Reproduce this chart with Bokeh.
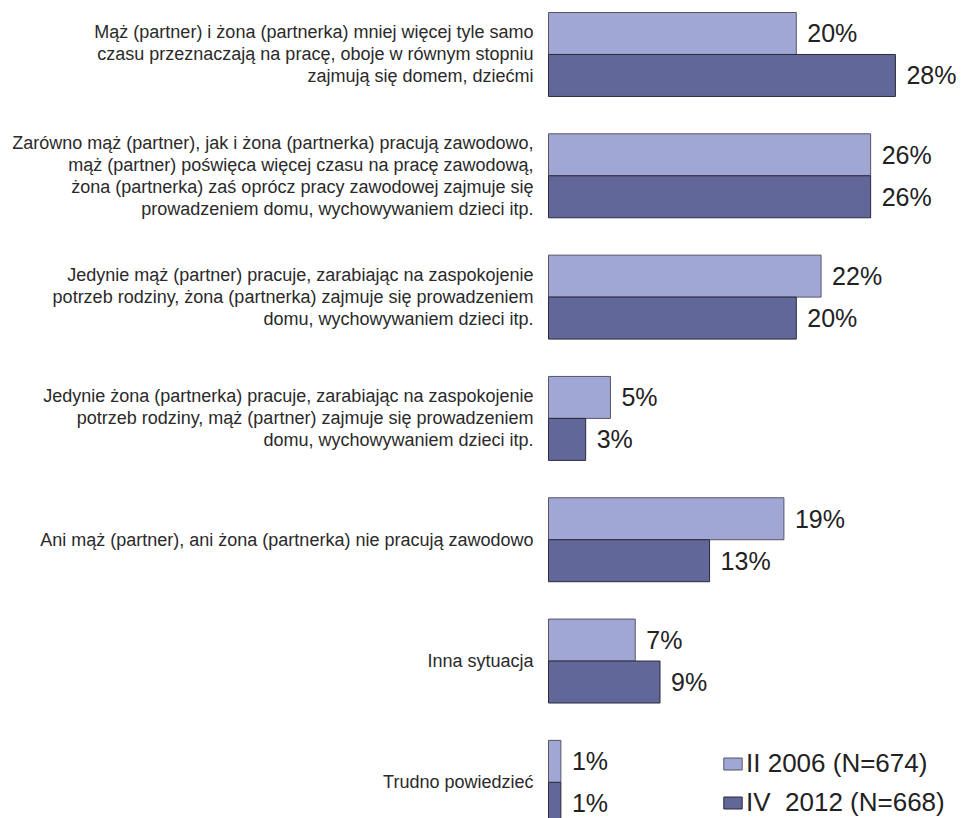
from bokeh.plotting import figure
from bokeh.models import ColumnDataSource, Range1d, Legend, LegendItem
from bokeh.transform import dodge
from bokeh.core.properties import value
from bokeh.embed import file_html
from bokeh.resources import INLINE

categories = [
    "Mąż (partner) i żona (partnerka) mniej więcej tyle samo\nczasu przeznaczają na pracę, oboje w równym stopniu\nzajmują się domem, dziećmi",
    "Zarówno mąż (partner), jak i żona (partnerka) pracują zawodowo,\nmąż (partner) poświęca więcej czasu na pracę zawodową,\nżona (partnerka) zaś oprócz pracy zawodowej zajmuje się\nprowadzeniem domu, wychowywaniem dzieci itp.",
    "Jedynie mąż (partner) pracuje, zarabiając na zaspokojenie\npotrzeb rodziny, żona (partnerka) zajmuje się prowadzeniem\ndomu, wychowywaniem dzieci itp.",
    "Jedynie żona (partnerka) pracuje, zarabiając na zaspokojenie\npotrzeb rodziny, mąż (partner) zajmuje się prowadzeniem\ndomu, wychowywaniem dzieci itp.",
    "Ani mąż (partner), ani żona (partnerka) nie pracują zawodowo",
    "Inna sytuacja",
    "Trudno powiedzieć",
]
series_2006 = [20, 26, 22, 5, 19, 7, 1]
series_2012 = [28, 26, 20, 3, 13, 9, 1]
legend_labels = ["II 2006 (N=674)", "IV  2012 (N=668)"]

LIGHT = "#a1a7d5"
DARK = "#62679a"
FONT = "Liberation Sans"

src = ColumnDataSource(dict(
    pos=list(range(len(categories))),
    cat=categories,
    v06=series_2006,
    v12=series_2012,
    l06=[f"{v}%" for v in series_2006],
    l12=[f"{v}%" for v in series_2012],
))

W, H = 962, 818
pxu = 12.39
x0 = 548
p = figure(width=W, height=H, output_backend="svg", toolbar_location=None,
           x_range=Range1d(-x0 / pxu, (W - x0) / pxu),
           y_range=Range1d(6.298, -0.445),
           min_border=0, min_border_left=0, min_border_right=0,
           min_border_top=0, min_border_bottom=0)
p.axis.visible = False
p.grid.visible = False
p.outline_line_color = None
p.background_fill_color = "white"
p.border_fill_color = "white"

bh = 0.346
r1 = p.hbar(y=dodge("pos", -bh / 2), left=0, right="v06", height=bh, source=src,
            fill_color=LIGHT, line_color="#555566", line_width=1)
r2 = p.hbar(y=dodge("pos", bh / 2), left=0, right="v12", height=bh, source=src,
            fill_color=DARK, line_color="#2b2b3a", line_width=1)

p.text(x="v06", y=dodge("pos", -bh / 2), text="l06", source=src, x_offset=11,
       text_align="left", text_baseline="middle", text_font=value(FONT),
       text_font_size="25px", text_color="#222222")
p.text(x="v12", y=dodge("pos", bh / 2), text="l12", source=src, x_offset=11,
       text_align="left", text_baseline="middle", text_font=value(FONT),
       text_font_size="25px", text_color="#222222")

p.text(x=0, y="pos", text="cat", source=src, x_offset=-15,
       text_align="right", text_baseline="middle", text_font=value(FONT),
       text_font_size="18px", text_color="#2a2a2a", text_line_height=1.10)

legend = Legend(items=[LegendItem(label=legend_labels[0], renderers=[r1]),
                       LegendItem(label=legend_labels[1], renderers=[r2])],
                location=(721, 0), orientation="vertical",
                glyph_width=23, glyph_height=15, label_height=30, spacing=8,
                label_standoff=2, padding=0, margin=0,
                label_text_font=FONT, label_text_font_size="26px",
                label_text_color="#222222",
                border_line_alpha=0, background_fill_alpha=0)
p.add_layout(legend, "center")

open("out.html", "w").write(file_html(p, INLINE))
